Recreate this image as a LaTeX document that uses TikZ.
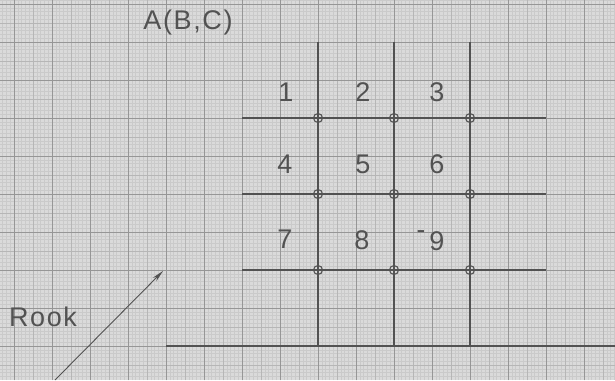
\documentclass[tikz,border=0pt]{standalone}
\usepackage{fontspec}
\setmainfont{Liberation Sans}
\newfontfamily\stencil[LetterSpace=6]{Liberation Sans}
\usetikzlibrary{arrows.meta, positioning}
\definecolor{paper}{RGB}{218,218,218}
\definecolor{fineline}{RGB}{202,202,202}
\definecolor{midline}{RGB}{182,182,182}
\definecolor{majorline}{RGB}{150,150,150}
\definecolor{ink}{RGB}{82,82,82}
\tikzset{
  cellnum/.style={text=ink,font=\stencil\fontsize{27}{30}\selectfont,inner sep=0pt},
  joint/.style={circle,draw=ink,line width=1.1pt,minimum size=9pt,inner sep=0pt},
  pen/.style={draw=ink,line width=1.2pt},
  line/.style={-{Stealth[length=12pt,width=5pt]},draw=ink,line width=0.9pt}
}

\begin{document}
\begin{tikzpicture}[x=1pt,y=1pt]
\fill[paper] (0,0) rectangle (615,380);
\useasboundingbox (0,0) rectangle (615,380);
% graph paper
\begin{scope}[shift={(14,34)}]
\draw[fineline,line width=0.35pt,step=3.8pt] (-14,-34) grid (601,346);
\draw[midline,line width=0.5pt,step=19pt] (-14,-34) grid (601,346);
\draw[majorline,line width=0.8pt,step=38pt] (-14,-34) grid (601,346);
\end{scope}

% ends of the board lines
\coordinate (top1) at (318,338);
\coordinate (top2) at (394,338);
\coordinate (top3) at (470,338);
\coordinate (foot1) at (318,34);
\coordinate (foot2) at (394,34);
\coordinate (foot3) at (470,34);
\coordinate (left1) at (242,262);
\coordinate (left2) at (242,186);
\coordinate (left3) at (242,110);
\coordinate (right1) at (546,262);
\coordinate (right2) at (546,186);
\coordinate (right3) at (546,110);
\coordinate (baseL) at (166,34);
\coordinate (baseR) at (615,34);

\draw[pen] (top1) -- (foot1);
\draw[pen] (top2) -- (foot2);
\draw[pen] (top3) -- (foot3);
\draw[pen] (left1) -- (right1);
\draw[pen] (left2) -- (right2);
\draw[pen] (left3) -- (right3);
\draw[pen] (baseL) -- (baseR);

% crossings
\foreach \c/\x in {1/318,2/394,3/470}
  \foreach \r/\y in {1/262,2/186,3/110}
    \node[joint] (j\r\c) at (\x,\y) {};

% squares
\node[cellnum] (n1) at (286,288) {1};
\node[cellnum] (n2) at (363,288) {2};
\node[cellnum] (n3) at (437,288) {3};
\node[cellnum] (n4) at (285,216) {4};
\node[cellnum] (n5) at (363,216) {5};
\node[cellnum] (n6) at (437,216) {6};
\node[cellnum] (n7) at (285,141) {7};
\node[cellnum] (n8) at (362,140) {8};
\node[cellnum] (n9) at (437,139) {9};
\node[cellnum,font=\fontsize{26}{26}\selectfont] (dash9) at (421,145) {-};

\node[cellnum] (title) at (188,357) {A(B,C)};
\node[cellnum] (rook) at (43,63) {Rook};

\coordinate (tail) at (55,0);
\coordinate (tip) at (163,109);
\draw[line] (tail) -- (tip);
\end{tikzpicture}
\end{document}
